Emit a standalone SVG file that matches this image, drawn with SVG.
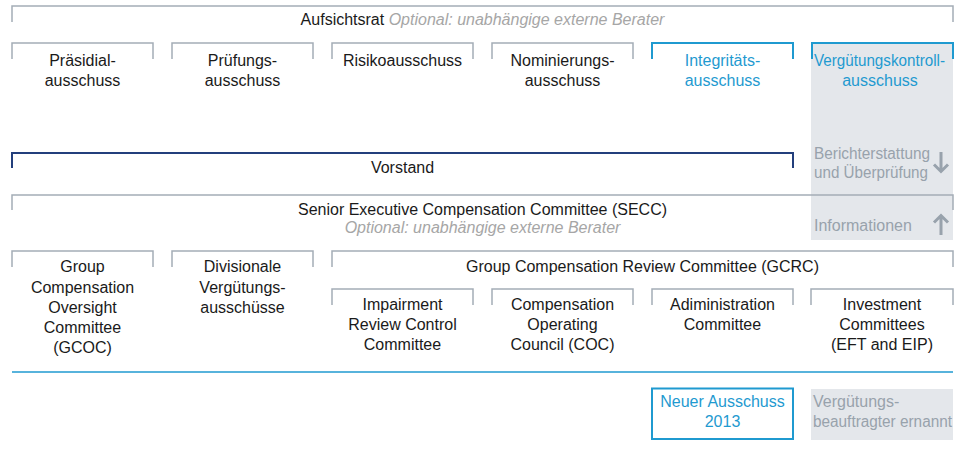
<svg xmlns="http://www.w3.org/2000/svg" width="963" height="462" viewBox="0 0 963 462">
  <style>
    text { font-family: "Liberation Sans", Arial, sans-serif; font-size: 16px; fill: #1a1a1a; }
    .c { text-anchor: middle; }
    .opt { font-style: italic; fill: #a6a6a6; }
    .blue { fill: #1f9ad0; }
    .note { fill: #98a2ac; }
    .br { fill: none; stroke: #a4adb6; stroke-width: 1.5; }
    .brb { fill: none; stroke: #1f9ad0; stroke-width: 2; }
    .brd { fill: none; stroke: #233f7c; stroke-width: 2; }
    .panel { fill: #e4e7eb; }
    .arr { fill: none; stroke: #98a2ac; stroke-width: 3; stroke-linecap: butt; }
  </style>

  <!-- shaded column behind the remuneration control committee -->
  <rect class="panel" x="811" y="43" width="142" height="197"/>

  <g id="aufsichtsrat">
    <path class="br" d="M12 22V6H953V22"/>
    <text class="c" x="482.5" y="25">Aufsichtsrat <tspan class="opt">Optional: unabhängige externe Berater</tspan></text>
  </g>

  <g id="praesidialausschuss">
    <path class="br" d="M12 59V43H153V59"/>
    <text class="c" x="82.5" y="66">Präsidial-</text>
    <text class="c" x="82.5" y="86">ausschuss</text>
  </g>
  <g id="pruefungsausschuss">
    <path class="br" d="M172 59V43H313V59"/>
    <text class="c" x="242.5" y="66">Prüfungs-</text>
    <text class="c" x="242.5" y="86">ausschuss</text>
  </g>
  <g id="risikoausschuss">
    <path class="br" d="M332 59V43H473V59"/>
    <text class="c" x="402.5" y="66">Risikoausschuss</text>
  </g>
  <g id="nominierungsausschuss">
    <path class="br" d="M492 59V43H633V59"/>
    <text class="c" x="562.5" y="66">Nominierungs-</text>
    <text class="c" x="562.5" y="86">ausschuss</text>
  </g>
  <g id="integritaetsausschuss">
    <path class="brb" d="M652 59V43H793V59"/>
    <text class="c blue" x="722.5" y="66">Integritäts-</text>
    <text class="c blue" x="722.5" y="86">ausschuss</text>
  </g>
  <g id="verguetungskontrollausschuss">
    <path class="brb" d="M812 59V43H953V59"/>
    <text class="c blue" x="879.5" y="66" textLength="131" lengthAdjust="spacingAndGlyphs">Vergütungskontroll-</text>
    <text class="c blue" x="880" y="86">ausschuss</text>
  </g>

  <g id="vorstand">
    <path class="brd" d="M12 168V153H793V168"/>
    <text class="c" x="402.5" y="173">Vorstand</text>
  </g>

  <g id="berichterstattung">
    <text class="note" x="814" y="159" textLength="116" lengthAdjust="spacingAndGlyphs">Berichterstattung</text>
    <text class="note" x="814" y="178" textLength="114" lengthAdjust="spacingAndGlyphs">und Überprüfung</text>
  </g>

  <g id="secc">
    <path class="br" d="M12 210V195H953V210"/>
    <text class="c" x="482.5" y="215">Senior Executive Compensation Committee (SECC)</text>
    <text class="c opt" x="482.5" y="233">Optional: unabhängige externe Berater</text>
  </g>

  <g id="informationen">
    <text class="note" x="814" y="231">Informationen</text>
  </g>

  <g id="gcoc">
    <path class="br" d="M12 267V251H153V267"/>
    <text class="c" x="82.5" y="272">Group</text>
    <text class="c" x="82.5" y="292.5">Compensation</text>
    <text class="c" x="82.5" y="313">Oversight</text>
    <text class="c" x="82.5" y="333">Committee</text>
    <text class="c" x="82.5" y="353">(GCOC)</text>
  </g>
  <g id="divisionale">
    <path class="br" d="M172 267V251H313V267"/>
    <text class="c" x="242.5" y="272">Divisionale</text>
    <text class="c" x="242.5" y="292.5">Vergütungs-</text>
    <text class="c" x="242.5" y="313">ausschüsse</text>
  </g>
  <g id="gcrc">
    <path class="br" d="M332 267V251H953V267"/>
    <text class="c" x="642.5" y="272">Group Compensation Review Committee (GCRC)</text>
  </g>

  <g id="impairment">
    <path class="br" d="M332 305V289H473V305"/>
    <text class="c" x="402.5" y="310">Impairment</text>
    <text class="c" x="402.5" y="330">Review Control</text>
    <text class="c" x="402.5" y="350">Committee</text>
  </g>
  <g id="coc">
    <path class="br" d="M492 305V289H633V305"/>
    <text class="c" x="562.5" y="310">Compensation</text>
    <text class="c" x="562.5" y="330">Operating</text>
    <text class="c" x="562.5" y="350">Council (COC)</text>
  </g>
  <g id="administration">
    <path class="br" d="M652 305V289H793V305"/>
    <text class="c" x="722.5" y="310">Adiministration</text>
    <text class="c" x="722.5" y="330">Committee</text>
  </g>
  <g id="investment">
    <path class="br" d="M811 305V289H953V305"/>
    <text class="c" x="882" y="310">Investment</text>
    <text class="c" x="882" y="330">Committees</text>
    <text class="c" x="882" y="350">(EFT and EIP)</text>
  </g>

  <!-- flow arrows between board and executive committee -->
  <g id="connectors">
    <path class="arr" d="M941 152V171M934 164.5L941 171.5L948 164.5"/>
    <path class="arr" d="M941 235V216M934 222.5L941 215.5L948 222.5"/>
  </g>

  <!-- legend -->
  <line x1="12" y1="372" x2="953" y2="372" stroke="#1f9ad0" stroke-width="1.5"/>
  <g id="legend-neu">
    <rect x="652" y="388.5" width="141" height="50.5" fill="#fff" stroke="#1f9ad0" stroke-width="2"/>
    <text class="c blue" x="722.5" y="407">Neuer Ausschuss</text>
    <text class="c blue" x="722.5" y="427">2013</text>
  </g>
  <g id="legend-beauftragter">
    <rect class="panel" x="811" y="389" width="142" height="51"/>
    <text class="note" x="813" y="407">Vergütungs-</text>
    <text class="note" x="813" y="427" textLength="139" lengthAdjust="spacingAndGlyphs">beauftragter ernannt</text>
  </g>
</svg>
